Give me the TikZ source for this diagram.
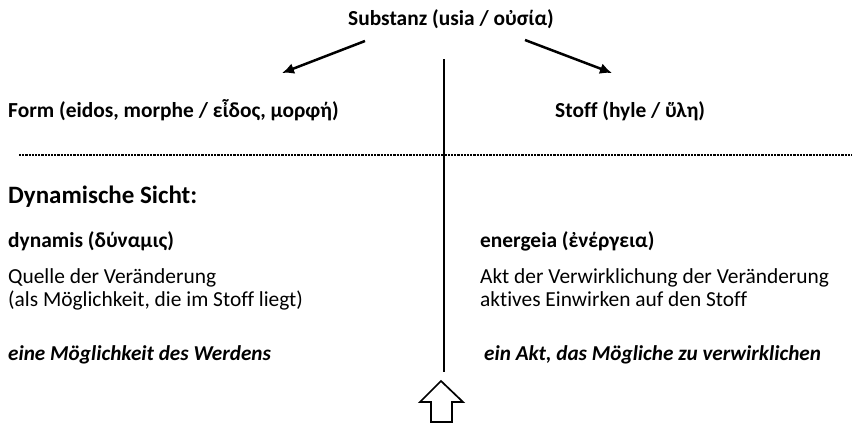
\documentclass[tikz,border=0pt]{standalone}
\usepackage{fontspec}
\setmainfont{Carlito}[Ligatures={NoCommon}]
\usetikzlibrary{arrows.meta}
\tikzset{
  txt/.style={inner sep=0pt, anchor=base west, font=\fontsize{21.4}{23}\selectfont},
  bh/.style={txt, font=\fontsize{21.4}{23}\selectfont\bfseries},
  bi/.style={txt, font=\fontsize{21.2}{23}\selectfont\bfseries\itshape},
  big/.style={txt, font=\fontsize{25}{28}\selectfont\bfseries},
  conn/.style={line width=2.5pt, -{Latex[length=12pt,width=11pt]}},
}
\begin{document}
\begin{tikzpicture}[x=1pt,y=-1pt]
\path[use as bounding box, fill=white] (0,0) rectangle (852,424);
\node[bh, anchor=base] (sub) at (451,25) {Substanz (usia / οὐσία)};
\node[bh] (form) at (8,117) {Form (eidos, morphe / εἶδος, μορφή)};
\node[bh] (stoff) at (555,117) {Stoff (hyle / ὕλη)};
\coordinate (la1) at (365,41);
\coordinate (la2) at (282,73);
\coordinate (ra1) at (525,40);
\coordinate (ra2) at (612,73);
\draw[conn] (la1) -- (la2);
\draw[conn] (ra1) -- (ra2);
\coordinate (vtop) at (444,59);
\coordinate (vbot) at (444,372);
\draw[line width=2.2pt] (vtop) -- (vbot);
\coordinate (dl) at (19,155);
\coordinate (dr) at (852,155);
\draw[line width=1.7pt, dash pattern=on 2.2pt off 1pt] (dl) -- (dr);
\node[big] (dyn) at (8,203) {Dynamische Sicht:};
\node[bh] (dynamis) at (8,247) {dynamis (δύναμις)};
\node[txt] (q1) at (8,283) {Quelle der Veränderung};
\node[txt] (q2) at (8,306) {(als Möglichkeit, die im Stoff liegt)};
\node[bi] (lit) at (8,360) {eine Möglichkeit des Werdens};
\node[bh] (energeia) at (480,247) {energeia (ἐνέργεια)};
\node[txt] (a1) at (480,283) {Akt der Verwirklichung der Veränderung};
\node[txt] (a2) at (480,306) {aktives Einwirken auf den Stoff};
\node[bi] (rit) at (484,360) {ein Akt, das Mögliche zu verwirklichen};
\draw[line width=1.7pt, line join=miter] (441,381) -- (463,402) -- (452,402) -- (452,422) -- (431,422) -- (431,402) -- (420,402) -- cycle;
\end{tikzpicture}
\end{document}
